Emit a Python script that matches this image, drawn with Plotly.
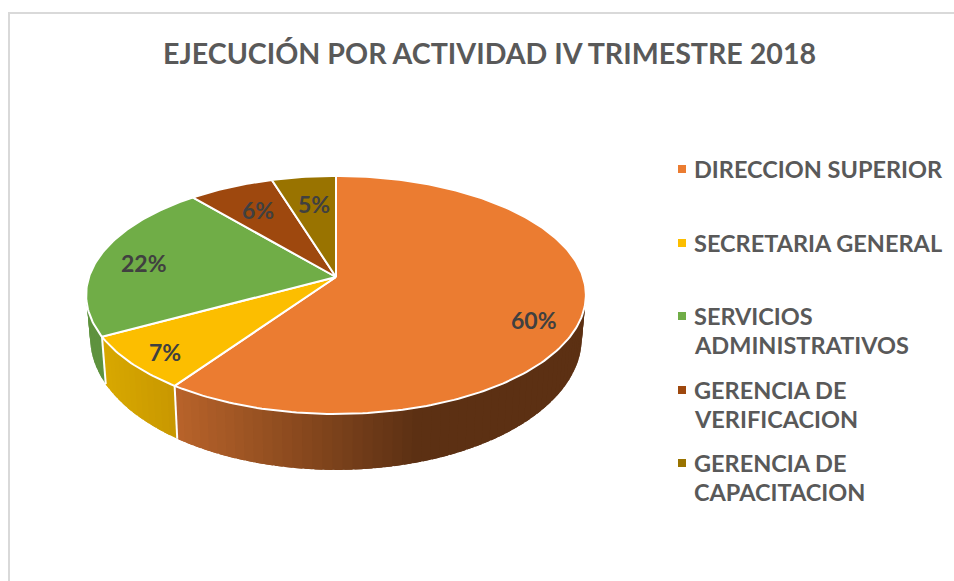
import math
import plotly.graph_objects as go

TITLE = "EJECUCIÓN POR ACTIVIDAD IV TRIMESTRE 2018"
categories = ["DIRECCION SUPERIOR", "SECRETARIA GENERAL", "SERVICIOS ADMINISTRATIVOS",
              "GERENCIA DE VERIFICACION", "GERENCIA DE CAPACITACION"]
legend_lines = [["DIRECCION SUPERIOR"], ["SECRETARIA GENERAL"], ["SERVICIOS", "ADMINISTRATIVOS"],
                ["GERENCIA DE", "VERIFICACION"], ["GERENCIA DE", "CAPACITACION"]]
values = [59.7, 7.4, 21.7, 6.4, 4.8]
colors = ["#EB7C31", "#FCBE00", "#70AD47", "#9E480E", "#997300"]
label_pos = [(534, 320), (165, 352), (144, 263), (258, 210), (314, 204)]
legend_y = [169, 243, 316, 390, 463]
FONT = "Lato"

# perspective model of the tilted disc (axes are in page pixels)
CX, CY, B, A, K = 336, 277, 247, 116.3, 0.151
CY2, B2, A2 = 318, 243, 129


def top(t):
    u, v = math.sin(t), -math.cos(t)
    d = 1 - K * v
    return CX + B * u / d, CY + A * v / d


def low(t):
    u, v = math.sin(t), -math.cos(t)
    d = 1 - K * v
    return CX + B2 * u / d, CY2 + A2 * v / d


def mix(c0, c1, f):
    f = max(0, min(1, f))
    return "rgb(%d,%d,%d)" % tuple(round(a + (b - a) * f) for a, b in zip(c0, c1))


def side_color(i, x):
    if i == 0:
        return mix((184, 99, 42), (92, 48, 19), (x - 176) / 240)
    if i == 1:
        return mix((216, 168, 0), (200, 151, 0), (x - 104) / 72)
    return "rgb(94,146,62)"


total = sum(values)
edges = [0]
for val in values:
    edges.append(edges[-1] + val / total * 2 * math.pi)

fig = go.Figure()
# visible part of the wall is limited by the silhouette of the disc
vis_start, vis_end = math.radians(70), math.radians(290)
for i in range(3):
    a0, a1 = max(edges[i], vis_start), min(edges[i + 1], vis_end)
    n = max(2, int(math.degrees(a1 - a0) / 2))
    # painted from the far end so that each strip overlaps its neighbour
    for j in range(n):
        t0 = a0 + (a1 - a0) * j / n
        t1 = min(a1, a0 + (a1 - a0) * (j + 1.8) / n)
        p = [top(t0), top(t1), low(t1), low(t0), top(t0)]
        c = side_color(i, (top(t0)[0] + top(a0 + (a1 - a0) * (j + 1) / n)[0]) / 2)
        fig.add_trace(go.Scatter(x=[q[0] for q in p], y=[q[1] for q in p], mode="lines",
                                 fill="toself", fillcolor=c, line=dict(width=0),
                                 hoverinfo="skip", showlegend=False))
# white seams on the wall
for e in edges[1:3]:
    p, q = top(e), low(e)
    fig.add_trace(go.Scatter(x=[p[0], q[0]], y=[p[1], q[1]], mode="lines",
                             line=dict(color="white", width=2), hoverinfo="skip", showlegend=False))

# top surface slices
for i, cat in enumerate(categories):
    n = max(4, int(math.degrees(edges[i + 1] - edges[i]) / 1.0))
    pts = [top(edges[i] + (edges[i + 1] - edges[i]) * j / n) for j in range(n + 1)]
    xs = [CX] + [q[0] for q in pts] + [CX]
    ys = [CY] + [q[1] for q in pts] + [CY]
    fig.add_trace(go.Scatter(x=xs, y=ys, mode="lines", fill="toself", fillcolor=colors[i],
                             line=dict(color="white", width=2), name=cat,
                             hoverinfo="name", showlegend=False))

# legend swatches
fig.add_trace(go.Scatter(x=[682] * 5, y=legend_y, mode="markers",
                         marker=dict(symbol="square", size=8, color=colors),
                         hoverinfo="skip", showlegend=False))

annotations = [dict(x=489, y=53, text=f"<b>{TITLE}</b>", showarrow=False, xref="x", yref="y",
                    font=dict(family=FONT, size=28.6, color="#595959"))]
for val, (lx, ly) in zip(values, label_pos):
    annotations.append(dict(x=lx, y=ly, text=f"<b>{round(val)}%</b>", showarrow=False, xref="x", yref="y",
                            font=dict(family=FONT, size=23, color="#404040")))
for lines, ly in zip(legend_lines, legend_y):
    for k, line in enumerate(lines):
        annotations.append(dict(x=691.5, y=ly + k * 29, text=f"<b>{line}</b>", showarrow=False,
                                xref="x", yref="y", xanchor="left",
                                font=dict(family=FONT, size=23.5, color="#595959")))

fig.update_layout(
    width=954, height=581, margin=dict(l=0, r=0, t=0, b=0),
    paper_bgcolor="white", plot_bgcolor="white",
    xaxis=dict(range=[0, 954], visible=False, fixedrange=True),
    yaxis=dict(range=[581, 0], visible=False, fixedrange=True),
    annotations=annotations,
    shapes=[
        dict(type="line", xref="x", yref="y", x0=9, x1=954, y0=13, y1=13,
             line=dict(color="#D9D9D9", width=2)),
        dict(type="line", xref="x", yref="y", x0=9, x1=9, y0=12, y1=581,
             line=dict(color="#D9D9D9", width=2)),
    ],
)
fig.write_html("out.html", config={"displayModeBar": False},
               post_script="document.body.style.margin='0';document.documentElement.style.overflow='hidden';")
